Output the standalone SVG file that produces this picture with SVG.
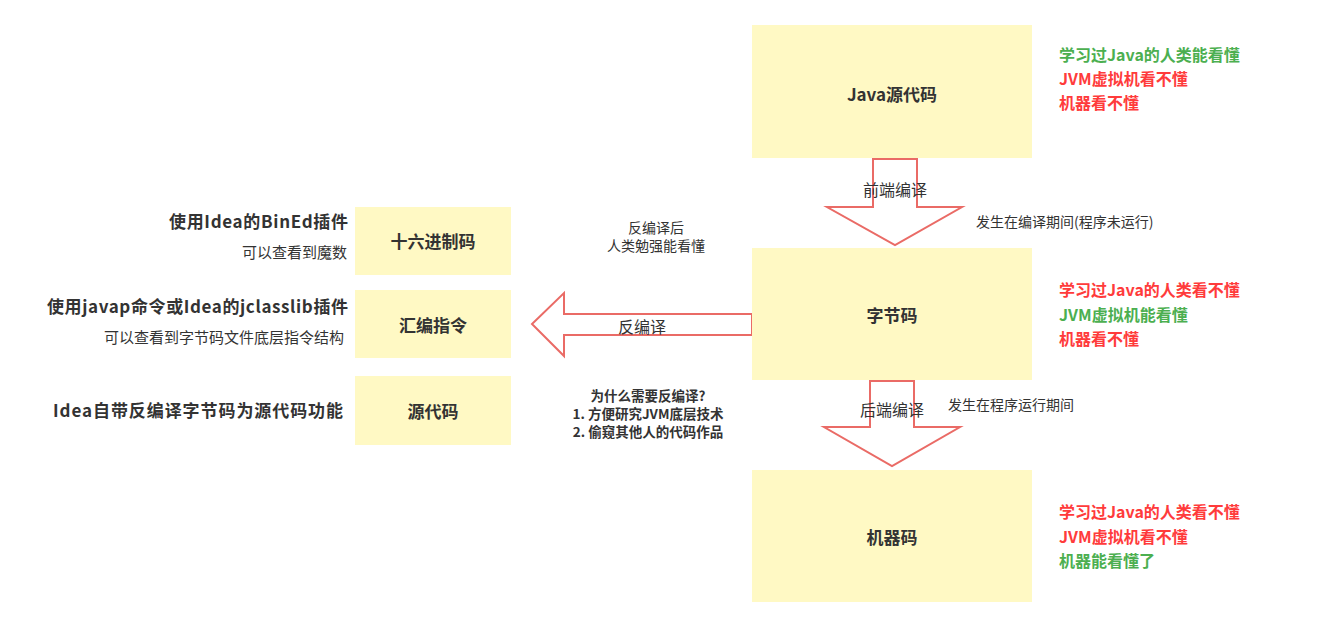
<svg xmlns="http://www.w3.org/2000/svg" width="1338" height="628" viewBox="0 0 1338 628">
<style>
text{font-family:"Microsoft YaHei","Noto Sans CJK SC","Liberation Sans",sans-serif;fill:#333333}
.box{fill:#fff9c4;stroke:none}
.lbl{font-size:17px;font-weight:bold;text-anchor:middle}
.arr{fill:#ffffff;stroke:#ea6b66;stroke-width:2}
.al{font-size:16px;text-anchor:middle}
.note{font-size:14px}
.big{font-size:17px;font-weight:bold;text-anchor:end}
.sub{font-size:15px;text-anchor:end}
.st{font-size:16px;font-weight:bold}
.g{fill:#4caf50}
.r{fill:#ff3b3b}
.q{font-size:13.5px;font-weight:bold;text-anchor:middle}
</style>
<rect width="1338" height="628" fill="#ffffff"/>
<g id="connectors">
<polygon class="arr" points="873,159 917,159 917,207 962,207 895,245 827,207 873,207"/>
<polygon class="arr" points="870,381 914,381 914,427 960,427 892,466 824,427 870,427"/>
<polygon class="arr" points="752,314 752,335 564,335 564,356 532,324 564,293 564,314"/>
<text class="al" x="895" y="196">前端编译</text>
<text class="al" x="892" y="416">后端编译</text>
<text class="al" x="642" y="333">反编译</text>
</g>
<g id="java-src">
<rect class="box" x="752" y="25" width="280" height="133"/>
<text class="lbl" x="892" y="101">Java源代码</text>
</g>
<g id="bytecode">
<rect class="box" x="752" y="248" width="280" height="132"/>
<text class="lbl" x="892" y="322">字节码</text>
</g>
<g id="machine">
<rect class="box" x="752" y="470" width="280" height="132"/>
<text class="lbl" x="892" y="544">机器码</text>
</g>
<g id="hex">
<rect class="box" x="355" y="207" width="156" height="68"/>
<text class="lbl" x="433" y="248">十六进制码</text>
</g>
<g id="asm">
<rect class="box" x="355" y="290" width="156" height="68"/>
<text class="lbl" x="433" y="332">汇编指令</text>
</g>
<g id="source">
<rect class="box" x="355" y="376" width="156" height="69"/>
<text class="lbl" x="433" y="418">源代码</text>
</g>
<g id="notes">
<text class="st g" x="1059" y="61">学习过Java的人类能看懂</text>
<text class="st r" x="1059" y="85">JVM虚拟机看不懂</text>
<text class="st r" x="1059" y="109">机器看不懂</text>
<text class="st r" x="1059" y="296">学习过Java的人类看不懂</text>
<text class="st g" x="1059" y="321">JVM虚拟机能看懂</text>
<text class="st r" x="1059" y="345">机器看不懂</text>
<text class="st r" x="1059" y="518">学习过Java的人类看不懂</text>
<text class="st r" x="1059" y="543">JVM虚拟机看不懂</text>
<text class="st g" x="1059" y="567">机器能看懂了</text>
<text class="note" x="976" y="227">发生在编译期间(程序未运行)</text>
<text class="note" x="948" y="410">发生在程序运行期间</text>
<text class="note" x="656" y="233" text-anchor="middle">反编译后</text>
<text class="note" x="656" y="251" text-anchor="middle">人类勉强能看懂</text>
<text class="q" x="648" y="401">为什么需要反编译?</text>
<text class="q" x="648" y="419">1. 方便研究JVM底层技术</text>
<text class="q" x="648" y="437">2. 偷窥其他人的代码作品</text>
<text class="big" x="348" y="228" textLength="179" lengthAdjust="spacing">使用Idea的BinEd插件</text>
<text class="sub" x="347" y="258">可以查看到魔数</text>
<text class="big" x="348" y="313" textLength="301" lengthAdjust="spacing">使用javap命令或Idea的jclasslib插件</text>
<text class="sub" x="344" y="343">可以查看到字节码文件底层指令结构</text>
<text class="big" x="343" y="417" textLength="290" lengthAdjust="spacing">Idea自带反编译字节码为源代码功能</text>
</g>
</svg>
